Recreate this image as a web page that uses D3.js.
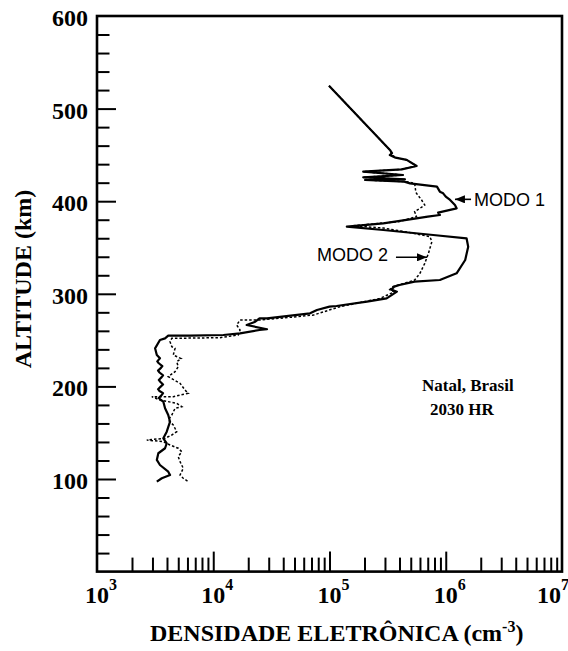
<!DOCTYPE html>
<html>
<head>
<meta charset="utf-8">
<script src="https://cdn.jsdelivr.net/npm/d3@7"></script>
<style>
  body { margin: 0; background: #fff; }
  svg { display: block; }
</style>
</head>
<body>
<div id="chart"></div>
<script>
// altitude (km) and electron density (cm^-3)
var modo1Alt = [524.7, 455.3, 452, 449.9, 447, 444.6, 438, 434.4, 431.9, 428.3, 425.8, 423.7, 422.9, 421.1, 419.3,
	415.7, 410.3, 408.5, 404.9, 401.3, 395.9, 392.3, 387.6, 385.1, 383.3, 381.5, 376.1, 372.5, 368.9, 363.5,
	359.9, 350.9, 336.5, 322.1, 314.9, 313.1, 309.5, 307.7, 304.5, 302.3, 295.1, 291.5, 286.8, 286.1, 282.5,
	278.9, 273.5, 273.5, 269.9, 266.3, 261.7, 260.9, 257.3, 255.5, 254.8, 254.8, 251.9, 250.1, 241.1, 233.9,
	230.3, 227, 225, 222, 220, 217, 215, 212, 210, 207, 205, 202, 200, 197, 195, 192.7, 190.7, 187.5, 185.3,
	183.5, 176.3, 169.1, 161.9, 151.1,
	144, 138.6, 133.2, 127.8, 120.6, 115.1, 107.9, 104.3, 100.8, 97.1];
var modo1Dens = [9.9e4, 3.31e5, 3.45e5, 3.3e5, 3.7e5, 4.61e5, 5.62e5, 4.18e5, 1.95e5, 4.29e5, 1.95e5, 4.46e5, 2.02e5, 4.4e5, 4.92e5,
	8.4e5, 8.9e5, 9.5e5, 1.0e6, 1.09e6, 1.2e6, 1.24e6, 8.6e5, 8.9e5, 7.0e5, 5.6e5, 2.9e5, 1.41e5, 2.9e5, 7.8e5,
	1.51e6, 1.56e6, 1.47e6, 1.24e6, 8.9e5, 5.4e5, 4.0e5, 3.6e5, 3.4e5, 3.8e5, 3.1e5, 2.1e5, 1.15e5, 1.0e5, 7.8e4,
	6.8e4, 2.9e4, 2.5e4, 2.3e4, 1.94e4, 2.9e4, 2.5e4, 1.7e4, 1.22e4, 6.3e3, 4.1e3, 3.85e3, 3.48e3, 3.16e3, 3.27e3,
	3.48e3, 3.3e3, 3.4e3, 3.65e3, 3.55e3, 3.35e3, 3.45e3, 3.7e3, 3.6e3, 3.4e3, 3.5e3, 3.7e3, 3.55e3, 3.35e3, 3.45e3, 3.7e3, 3.6e3, 3.4e3, 3.55e3,
	3.72e3, 3.85e3, 4.1e3, 4.25e3, 3.98e3,
	3.72e3, 3.98e3, 3.85e3, 3.37e3, 3.27e3, 3.48e3, 4.1e3, 4.25e3, 3.61e3, 3.27e3];

var modo2Alt = [524.7, 455.3, 452, 449.9, 447, 444.6, 438, 434.4, 431.9, 428.3, 425.8, 423.7, 422.9, 421.1, 419.3,
	412, 408.5, 401.3, 395.9, 392.3, 388.7, 383.3, 378, 373.5, 371, 366, 361.7, 356.3, 343.7, 332.9,
	322.1, 314.9, 311, 307.7, 304.5, 302, 294.9, 286.1, 277.1, 274.5, 271.7, 271.7, 266.3, 260.9, 255.5,
	252.6, 251.9, 248.3, 242.9, 241.1, 233.9, 230, 226.7, 221.3, 215.9, 210.5, 203.3, 196.1, 192.5, 188.9,
	188.9, 185.3, 181.7, 178.1, 176.3, 169.1, 163.7, 158.3, 151.1, 147.5, 144, 142.1, 140.3, 136.7, 133.2,
	129.5, 124.1, 118.7, 111.6, 104.3, 100.8, 97.1];
var modo2Dens = [9.9e4, 3.31e5, 3.4e5, 3.45e5, 3.75e5, 4.61e5, 5.62e5, 4.18e5, 1.95e5, 4.29e5, 1.95e5, 4.46e5, 2.02e5, 4.6e5, 5.4e5,
	5.5e5, 5.6e5, 6.2e5, 6.6e5, 6.0e5, 5.4e5, 5.6e5, 4.0e5, 1.6e5, 2.9e5, 5.0e5, 7.3e5, 7.6e5, 7.1e5, 6.6e5,
	6.0e5, 5.4e5, 4.3e5, 3.5e5, 3.3e5, 3.6e5, 2.7e5, 1.23e5, 7.3e4, 4.5e4, 2.5e4, 1.7e4, 1.59e4, 1.7e4, 1.64e4,
	1.14e4, 4.4e3, 4.25e3, 4.4e3, 4.69e3, 4.53e3, 5.3e3, 4.85e3, 5.0e3, 4.69e3, 4.1e3, 5.18e3, 5.71e3, 6.1e3, 4.53e3,
	2.96e3, 3.48e3, 4.85e3, 5.36e3, 4.69e3, 4.4e3, 4.1e3, 4.53e3, 4.85e3, 4.4e3, 3.85e3, 2.68e3, 3.7e3, 4.25e3, 5.0e3,
	5.36e3, 5.0e3, 5.18e3, 5.52e3, 5.18e3, 5.52e3, 6.1e3];

var xMajorTicks = [1e3, 1e4, 1e5, 1e6, 1e7];
var xExponents = ["3", "4", "5", "6", "7"];
var yMajorTicks = [100, 200, 300, 400, 500, 600];

// annotations: label, text anchor point, arrow tail and tip (density, altitude)
var modeLabels = ["MODO 1", "MODO 2"];
var modeTextPos = [[1.75e6, 394.8], [3.18e5, 335]];
var modeArrowFrom = [[1.65e6, 402], [3.73e5, 339.4]];
var modeArrowTo = [[1.2e6, 402], [6.9e5, 339.4]];
var siteLines = ["Natal, Brasil", "2030 HR"];
var sitePos = [[6.25e5, 194.5], [7.33e5, 169]];

var width = 568, height = 651;
var serif = "'Liberation Serif', 'Times New Roman', serif";
var sans = "'Liberation Sans', Arial, sans-serif";

function drawProfile(id) {

	var svg = d3.select(id).append("svg").attr("width", width).attr("height", height);

	var x = d3.scaleLog().domain([1e3, 1e7]).range([97, 562]);
	var y = d3.scaleLinear().domain([0, 600]).range([571.6, 16]);

	// minor ticks
	var xMinor = [];
	for (var e = 3; e < 7; e++) {
		for (var m = 2; m <= 9; m++) xMinor.push(m * Math.pow(10, e));
	}
	var yMinor = d3.range(20, 600, 20).filter(function(v) { return v % 100 != 0; });

	var axes = svg.append("g").attr("class", "axes");

	axes.append("g")
		.attr("transform", "translate(0," + y(0) + ")")
		.call(d3.axisBottom(x).tickValues(xMinor).tickSize(-14).tickFormat(""));
	axes.append("g")
		.attr("transform", "translate(0," + y(0) + ")")
		.call(d3.axisBottom(x).tickValues(xMajorTicks.slice(1, -1)).tickSize(-20).tickFormat(""));
	axes.append("g")
		.attr("transform", "translate(" + x(1e3) + ",0)")
		.call(d3.axisLeft(y).tickValues(yMinor).tickSize(-12.5).tickFormat(""));
	axes.append("g")
		.attr("transform", "translate(" + x(1e3) + ",0)")
		.call(d3.axisLeft(y).tickValues(yMajorTicks.slice(0, -1)).tickSize(-19).tickFormat(""));

	axes.selectAll(".domain").remove();
	axes.selectAll(".tick line").attr("stroke", "#000").attr("stroke-width", 2);

	// frame
	svg.append("rect")
		.attr("x", x(1e3)).attr("y", y(600))
		.attr("width", x(1e7) - x(1e3)).attr("height", y(0) - y(600))
		.attr("fill", "none").attr("stroke", "#000").attr("stroke-width", 2.6);

	// y tick labels
	svg.append("g").selectAll("text")
		.data(yMajorTicks)
		.enter().append("text")
			.attr("x", 88)
			.attr("y", function(d) { return y(d); })
			.attr("dy", "0.42em")
			.attr("text-anchor", "end")
			.style("font-family", serif).style("font-weight", "bold").style("font-size", "24px")
			.text(function(d) { return d; });

	// x tick labels: 10 with superscript exponent
	var xl = svg.append("g").selectAll("text")
		.data(xMajorTicks)
		.enter().append("text")
			.attr("x", function(d, i) { return x(d) - 12 - (i == xMajorTicks.length - 1 ? 13 : 0); })
			.attr("y", 603)
			.style("font-family", serif).style("font-weight", "bold").style("font-size", "24px");
	xl.append("tspan").text("10");
	xl.append("tspan")
		.attr("dy", -13)
		.style("font-size", "16px")
		.text(function(d, i) { return xExponents[i]; });

	// axis titles
	var xt = svg.append("text")
		.attr("x", 150).attr("y", 641)
		.style("font-family", serif).style("font-weight", "bold").style("font-size", "24px");
	xt.append("tspan").text("DENSIDADE ELETRÔNICA (cm");
	xt.append("tspan").attr("dy", -9).style("font-size", "16px").text("-3");
	xt.append("tspan").attr("dy", 9).text(")");

	svg.append("text")
		.attr("transform", "translate(31," + 279 + ") rotate(-90)")
		.attr("text-anchor", "middle")
		.style("font-family", serif).style("font-weight", "bold").style("font-size", "24px")
		.text("ALTITUDE (km)");

	// profiles
	var line = d3.line()
		.x(function(d) { return x(d[0]); })
		.y(function(d) { return y(d[1]); });

	var modo2 = modo2Dens.map(function(d, i) { return [d, modo2Alt[i]]; });
	var modo1 = modo1Dens.map(function(d, i) { return [d, modo1Alt[i]]; });

	svg.append("path")
		.datum(modo2)
		.attr("class", "modo2")
		.attr("fill", "none").attr("stroke", "#000")
		.attr("stroke-width", 1.5).attr("stroke-dasharray", "2.5,2")
		.attr("d", line);

	svg.append("path")
		.datum(modo1)
		.attr("class", "modo1")
		.attr("fill", "none").attr("stroke", "#000")
		.attr("stroke-width", 2.2).attr("stroke-linejoin", "round")
		.attr("d", line);

	// arrows + labels
	svg.append("defs").append("marker")
		.attr("id", "arrow")
		.attr("viewBox", "0 0 10 8")
		.attr("refX", 10).attr("refY", 4)
		.attr("markerWidth", 10).attr("markerHeight", 8)
		.attr("markerUnits", "userSpaceOnUse")
		.attr("orient", "auto")
		.append("path").attr("d", "M0,0L10,4L0,8Z").attr("fill", "#000");

	modeLabels.forEach(function(lbl, i) {
		svg.append("line")
			.attr("x1", x(modeArrowFrom[i][0])).attr("y1", y(modeArrowFrom[i][1]))
			.attr("x2", x(modeArrowTo[i][0])).attr("y2", y(modeArrowTo[i][1]))
			.attr("stroke", "#000").attr("stroke-width", 1.6)
			.attr("marker-end", "url(#arrow)");
		svg.append("text")
			.attr("x", x(modeTextPos[i][0])).attr("y", y(modeTextPos[i][1]))
			.attr("text-anchor", i == 0 ? "start" : "end")
			.style("font-family", sans).style("font-size", "18px")
			.text(lbl);
	});

	svg.append("g").selectAll("text")
		.data(siteLines)
		.enter().append("text")
			.attr("x", function(d, i) { return x(sitePos[i][0]); })
			.attr("y", function(d, i) { return y(sitePos[i][1]); })
			.style("font-family", serif).style("font-weight", "bold").style("font-size", "17px")
			.text(function(d) { return d; });
}

drawProfile("#chart");
</script>
</body>
</html>
